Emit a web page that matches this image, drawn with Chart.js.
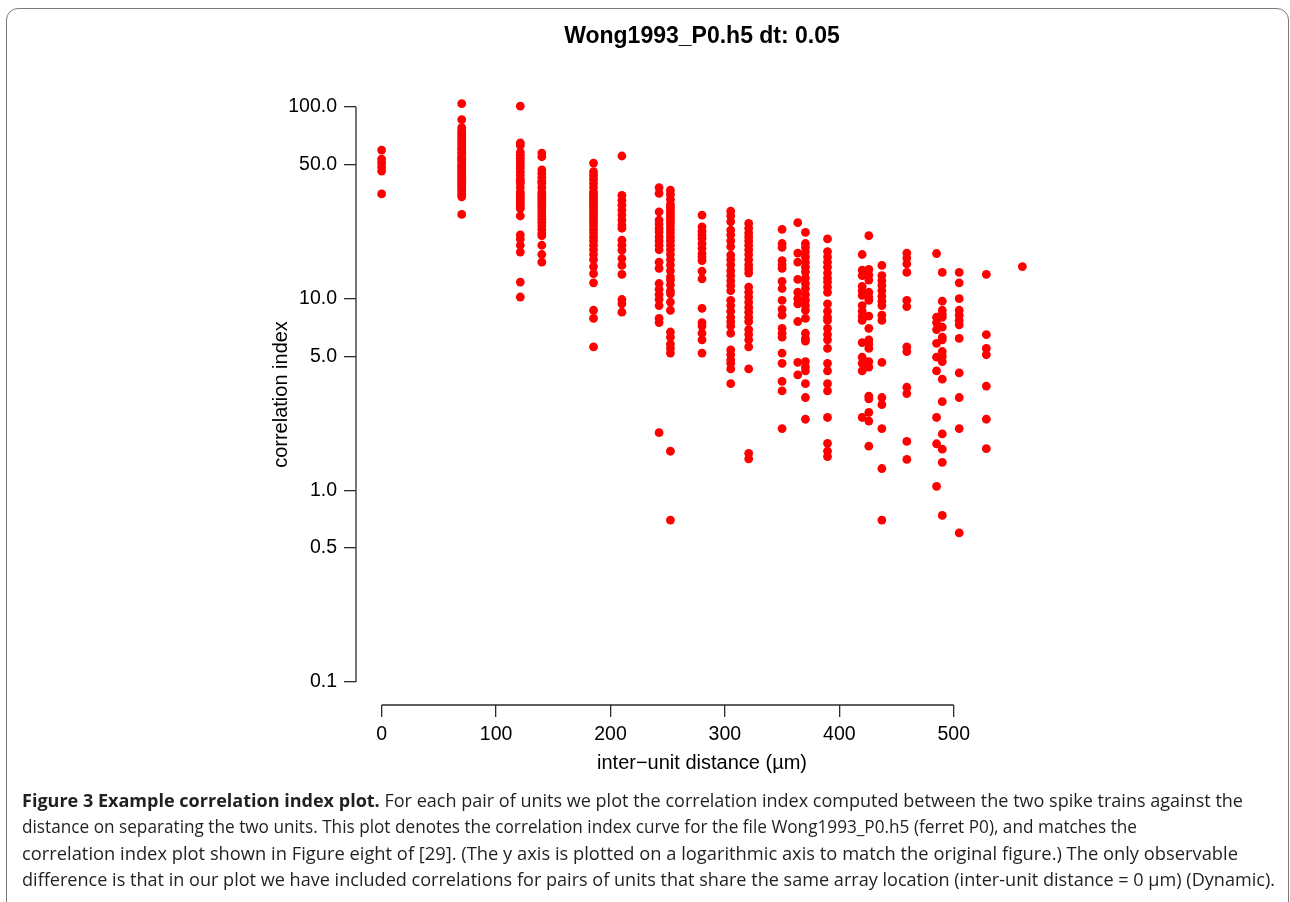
<!DOCTYPE html>
<html>
<head>
<meta charset="utf-8">
<script src="https://cdn.jsdelivr.net/npm/chart.js@4"></script>
<style>
  html, body { margin: 0; padding: 0; background: #fff; }
  body { width: 1290px; height: 902px; position: relative; overflow: hidden; }
  #frame { position: absolute; left: 6px; top: 8px; width: 1281px; height: 940px;
           border: 1px solid #7a7a7a; border-radius: 12px; }
  #plot { position: absolute; left: 0; top: 0; }
  #caption { position: absolute; left: 22px; top: 787px; font-family: "Open Sans", sans-serif;
             font-size: 18px; line-height: 26.4px; color: #231f20; }
  #caption div { white-space: nowrap; transform-origin: 0 0; width: max-content; }
</style>
</head>
<body>
<div id="frame"></div>
<canvas id="plot" width="1290" height="790"></canvas>
<div id="caption">
  <div><b>Figure 3 Example correlation index plot.</b> For each pair of units we plot the correlation index computed between the two spike trains against the</div>
  <div>distance on separating the two units. This plot denotes the correlation index curve for the file Wong1993_P0.h5 (ferret P0), and matches the</div>
  <div>correlation index plot shown in Figure eight of [29]. (The y axis is plotted on a logarithmic axis to match the original figure.) The only observable</div>
  <div>difference is that in our plot we have included correlations for pairs of units that share the same array location (inter-unit distance = 0 µm) (Dynamic).</div>
</div>
<script>
// inter-unit distances on the hex array (um)
const distances = [0, 70, 121.2, 140, 185.2, 210, 242.5, 252.4, 280, 305.1, 320.8, 350,
                   363.7, 370.4, 389.7, 420, 425.8, 437.2, 459, 485, 490, 504.8, 528.5, 560];

// correlation index values
const ci0 = [59.6, 53.5, 51.2, 48.7, 46.3, 35.2];
const ci70 = [104, 86, 78, 75, 73, 71, 69, 67, 65, 63, 61, 60, 58, 57, 55, 54, 53, 52, 50, 49,
              48, 47, 46, 45, 44, 43, 42, 41, 40, 39, 38, 37, 36, 35, 34, 27.5];
const ci121 = [101, 65, 63, 58, 56, 54, 52, 50, 48, 46, 44, 42, 41, 40, 38, 36, 35, 34, 33, 32,
               31, 30, 29.5, 27, 21.5, 20.5, 19, 17.5, 12.2, 10.2];
const ci140 = [57.5, 55, 47, 45, 43, 41, 40, 38, 36, 35, 34, 33, 32, 31, 30, 29, 28, 27, 26, 25,
               24, 23, 22, 21.3, 19, 17, 15.5];
const ci185 = [51, 46, 44, 42, 40, 38, 36, 35, 34, 33, 32, 31, 30, 29, 28, 27, 26, 25, 24, 23,
               22, 21, 20, 19, 18, 17, 16, 14.7, 13.5, 12.1, 8.7, 7.9, 5.6];
const ci210 = [55.5, 34.6, 32.6, 30.7, 29, 27.3, 25.7, 24.2, 23.3, 20.2, 19, 17.9, 16.2, 14.9,
               13.4, 9.9, 9.4, 8.5];
const ci242 = [38, 35.4, 28.4, 25.7, 24.5, 23.3, 22.3, 21, 20, 19, 18, 15.5, 14.4, 12, 11.2,
               10.5, 9.9, 9.2, 7.9, 7.5, 2.0];
const ci252 = [36.8, 35, 33, 31, 30, 29, 28, 27, 26, 25, 24, 23, 22, 21, 20, 19, 18, 17, 16, 15,
               14, 13, 12.5, 11.8, 11, 10.6, 9.6, 8.7, 6.7, 6.3, 5.8, 5.5, 5.2, 1.6, 0.7];
const ci280 = [27.3, 23.7, 22.5, 21.5, 20.6, 19.4, 18.3, 17.2, 16.5, 15.8, 13.9, 12.7, 8.9, 7.5,
               7.2, 6.6, 6.1, 5.2];
const ci305 = [28.6, 27, 25.2, 22.8, 21.5, 20, 18.7, 16.9, 16, 15, 14, 13.2, 12.4, 11.7, 11, 9.8,
               9.2, 8.6, 8, 7.6, 7.2, 6.6, 5.4, 5.1, 4.8, 4.6, 4.3, 3.6];
const ci321 = [24.7, 23.3, 22, 21, 20, 19, 18, 17, 16, 15, 14.3, 13.6, 11.5, 10.8, 10.2, 9.6, 9,
               8.5, 8, 7.6, 6.9, 6.5, 6.1, 5.6, 4.3, 1.56, 1.46];
const ci350 = [23, 19.4, 18.5, 15.8, 15, 14.4, 12.3, 11.3, 9.8, 8.8, 8.2, 7, 6.6, 6.3, 5.2, 4.6,
               3.7, 3.3, 2.1];
const ci364 = [24.9, 17.3, 15.5, 12.6, 10.8, 10, 9.4, 7.6, 4.65, 4.0];
const ci370 = [22.2, 19.4, 18.5, 17.5, 16.5, 15.5, 14.6, 13.8, 12.8, 12, 11.3, 10.5, 9.8, 9.2,
               8.7, 7.9, 6.6, 6.2, 6.0, 4.7, 4.4, 4.2, 3.6, 3.05, 2.35];
const ci390 = [20.5, 17.6, 16.5, 15.5, 14.6, 13.6, 12.8, 12.2, 11.5, 10.8, 9.4, 8.6, 8, 7.7, 7,
               6.5, 6.1, 5.5, 4.6, 4.2, 3.6, 3.3, 2.4, 1.76, 1.6, 1.5];
const ci420 = [17, 14.1, 13.2, 11.6, 11, 10.4, 9.2, 8.6, 8.1, 7.7, 5.9, 4.95, 4.6, 4.2, 2.4];
const ci426 = [21.3, 14.2, 13.3, 12.5, 10.8, 10.2, 9.8, 8.1, 7, 6.1, 5.8, 5.5, 4.7, 4.4, 3.1, 3.0,
               2.55, 2.3, 1.7];
const ci437 = [14.9, 13.2, 12.4, 11.7, 11, 10.3, 9.7, 9.2, 8.2, 7.7, 4.65, 3.05, 2.8, 2.1, 1.3, 0.7];
const ci459 = [17.3, 16.3, 15.2, 13.7, 9.8, 9.1, 5.6, 5.3, 3.45, 3.2, 1.8, 1.45];
const ci485 = [17.2, 8, 7.5, 6.9, 5.85, 4.95, 4.2, 2.4, 1.75, 1.05];
const ci490 = [13.7, 9.7, 8.7, 8.3, 8.0, 7.1, 6.3, 6.1, 5.3, 5.0, 4.7, 3.8, 2.9, 1.97, 1.64, 1.4, 0.74];
const ci505 = [13.7, 12.1, 10, 8.7, 8.2, 7.7, 7.3, 6.2, 4.1, 3.05, 2.1, 0.6];
const ci528 = [13.4, 6.5, 5.5, 5.1, 3.5, 2.35, 1.65];
const ci560 = [14.7];

const columns = [ci0, ci70, ci121, ci140, ci185, ci210, ci242, ci252, ci280, ci305, ci321, ci350,
                 ci364, ci370, ci390, ci420, ci426, ci437, ci459, ci485, ci490, ci505, ci528, ci560];

const xTicks = [0, 100, 200, 300, 400, 500];
const yTicks = [0.1, 0.5, 1, 5, 10, 50, 100];
const yTickLabels = ['0.1', '0.5', '1.0', '5.0', '10.0', '50.0', '100.0'];

const axisColor = '#2b2b2b';

const points = [];
columns.forEach((col, i) => {
  col.forEach(v => points.push({ x: distances[i], y: v }));
});

// R style axes: line only spans first..last tick
const rAxes = {
  id: 'rAxes',
  afterDraw(chart) {
    const { ctx, chartArea, scales: { x, y } } = chart;
    ctx.save();
    ctx.strokeStyle = axisColor;
    ctx.lineWidth = 1.3;
    ctx.beginPath();
    ctx.moveTo(chartArea.left, y.getPixelForValue(yTicks[0]));
    ctx.lineTo(chartArea.left, y.getPixelForValue(yTicks[yTicks.length - 1]));
    ctx.moveTo(x.getPixelForValue(xTicks[0]), chartArea.bottom);
    ctx.lineTo(x.getPixelForValue(xTicks[xTicks.length - 1]), chartArea.bottom);
    ctx.stroke();
    ctx.restore();
  }
};

new Chart(document.getElementById('plot'), {
  type: 'scatter',
  data: {
    datasets: [{
      data: points,
      backgroundColor: '#ff0000',
      borderWidth: 0,
      pointRadius: 4.4,
      pointHoverRadius: 4.4
    }]
  },
  options: {
    responsive: false,
    animation: false,
    devicePixelRatio: 1,
    layout: { padding: { left: 269, right: 242, top: 0, bottom: 0 } },
    plugins: {
      legend: { display: false },
      tooltip: { enabled: false },
      title: {
        display: true,
        fullSize: false,
        text: 'Wong1993_P0.h5 dt: 0.05',
        color: '#000',
        font: { family: 'Liberation Sans, Arial, sans-serif', size: 23, weight: 'bold' },
        padding: { top: 23, bottom: 33.4 }
      }
    },
    scales: {
      x: {
        type: 'linear',
        min: -22.4,
        max: 582.4,
        afterBuildTicks: s => { s.ticks = xTicks.map(v => ({ value: v })); },
        afterFit: s => { s.height = 85; },
        border: { display: false },
        grid: { display: true, drawOnChartArea: false, drawTicks: true, tickLength: 12,
                color: axisColor, lineWidth: 1.3 },
        ticks: { autoSkip: false, maxRotation: 0, padding: 6, color: '#000',
                 font: { family: 'Liberation Sans, Arial, sans-serif', size: 19.5 },
                 callback: v => String(v) },
        title: { display: true, text: 'inter−unit distance (µm)', color: '#000',
                 font: { family: 'Liberation Sans, Arial, sans-serif', size: 20 },
                 padding: { top: 0, bottom: 15 } }
      },
      y: {
        type: 'logarithmic',
        min: 0.0759,
        max: 131.8,
        afterBuildTicks: s => { s.ticks = yTicks.map(v => ({ value: v })); },
        afterFit: s => { s.width = 87; },
        border: { display: false },
        grid: { display: true, drawOnChartArea: false, drawTicks: true, tickLength: 12,
                color: axisColor, lineWidth: 1.3 },
        ticks: { autoSkip: false, padding: 7, color: '#000',
                 font: { family: 'Liberation Sans, Arial, sans-serif', size: 19.5 },
                 callback: (v, i) => yTickLabels[i] },
        title: { display: true, text: 'correlation index', color: '#000',
                 font: { family: 'Liberation Sans, Arial, sans-serif', size: 20 },
                 padding: { top: 0, bottom: 0 } }
      }
    }
  },
  plugins: [rAxes]
});

// squeeze caption lines to the widths they have in the figure
const lineWidths = [1221, 1115, 1216, 1253];
document.querySelectorAll('#caption div').forEach((el, i) => {
  const w = el.getBoundingClientRect().width;
  el.style.transform = 'scaleX(' + (lineWidths[i] / w) + ')';
});
</script>
</body>
</html>
